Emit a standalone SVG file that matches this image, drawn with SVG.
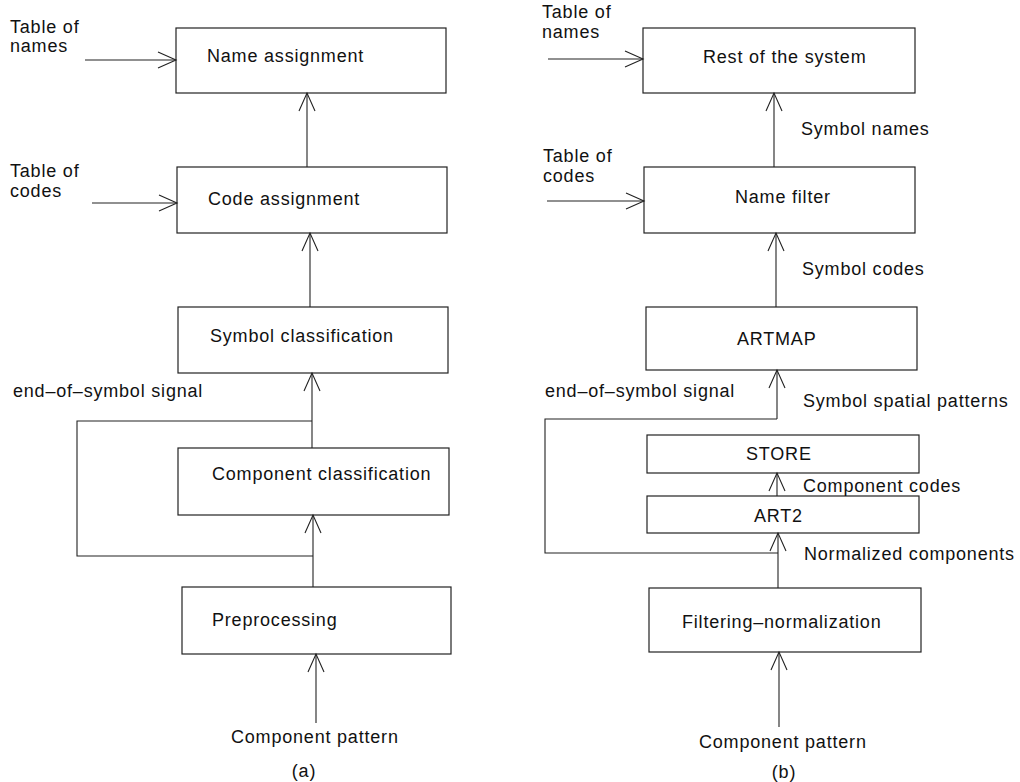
<svg xmlns="http://www.w3.org/2000/svg" width="1020" height="782" viewBox="0 0 1020 782">
<style>
.bg{fill:#fff}
.box{fill:none;stroke:#222;stroke-width:1.2}
.ln{fill:none;stroke:#222;stroke-width:1.1}
.ar{marker-end:url(#arr)}
text{font-family:"Liberation Sans",Arial,sans-serif;font-size:18px;fill:#111;letter-spacing:0.8px}
.c{text-anchor:middle}
</style>
<defs>
<marker id="arr" markerUnits="userSpaceOnUse" markerWidth="22" markerHeight="20" refX="20" refY="10" orient="auto">
<path d="M2,2 L20,10 L2,18" fill="none" stroke="#222" stroke-width="1.1"/>
</marker>
</defs>
<rect class="bg" x="0" y="0" width="1020" height="782"/>

<g id="connectors">
<!-- left panel -->
<path class="ln ar" d="M85,60 H176"/>
<path class="ln ar" d="M92,203 H177"/>
<path class="ln ar" d="M307,167 V93"/>
<path class="ln ar" d="M310,307 V233"/>
<path class="ln ar" d="M312,448 V373"/>
<path class="ln" d="M312,421 H77 V556 H313"/>
<path class="ln ar" d="M313,587 V515"/>
<path class="ln ar" d="M316,723 V654"/>
<!-- right panel -->
<path class="ln ar" d="M548,59 H643"/>
<path class="ln ar" d="M547,201 H644"/>
<path class="ln ar" d="M774,167 V93"/>
<path class="ln ar" d="M776,307 V233"/>
<path class="ln ar" d="M777,419 V370"/>
<path class="ln" d="M777,419 H545 V553 H778"/>
<path class="ln ar" d="M777,496 V473"/>
<path class="ln ar" d="M778,588 V533"/>
<path class="ln ar" d="M779,727 V652"/>
</g>

<g id="a-name-assignment"><rect class="box" x="176" y="28" width="270" height="65"/><text x="207" y="62">Name assignment</text></g>
<g id="a-code-assignment"><rect class="box" x="177" y="167" width="270" height="66"/><text x="208" y="205">Code assignment</text></g>
<g id="a-symbol-classification"><rect class="box" x="178" y="307" width="270" height="66"/><text x="210" y="342">Symbol classification</text></g>
<g id="a-component-classification"><rect class="box" x="178" y="448" width="271" height="67"/><text x="212" y="480">Component classification</text></g>
<g id="a-preprocessing"><rect class="box" x="182" y="587" width="269" height="67"/><text x="212" y="626">Preprocessing</text></g>

<g id="a-labels">
<text x="10" y="33">Table of</text><text x="10" y="52">names</text>
<text x="10" y="177">Table of</text><text x="10" y="197">codes</text>
<text x="13" y="397">end–of–symbol signal</text>
<text x="231" y="743">Component pattern</text>
<text class="c" x="304" y="777">(a)</text>
</g>

<g id="b-rest"><rect class="box" x="643" y="28" width="272" height="65"/><text x="703" y="63">Rest of the system</text></g>
<g id="b-name-filter"><rect class="box" x="644" y="167" width="271" height="66"/><text x="735" y="203">Name filter</text></g>
<g id="b-artmap"><rect class="box" x="646" y="307" width="271" height="63"/><text x="737" y="345">ARTMAP</text></g>
<g id="b-store"><rect class="box" x="647" y="435" width="272" height="38"/><text x="746" y="460">STORE</text></g>
<g id="b-art2"><rect class="box" x="647" y="496" width="272" height="37"/><text x="754" y="522">ART2</text></g>
<g id="b-filtering"><rect class="box" x="649" y="588" width="272" height="64"/><text x="682" y="628">Filtering–normalization</text></g>

<g id="b-labels">
<text x="542" y="18">Table of</text><text x="542" y="38">names</text>
<text x="543" y="162">Table of</text><text x="543" y="182">codes</text>
<text x="801" y="135">Symbol names</text>
<text x="802" y="275">Symbol codes</text>
<text x="545" y="397">end–of–symbol signal</text>
<text x="803" y="407">Symbol spatial patterns</text>
<text x="803" y="492">Component codes</text>
<text x="804" y="560">Normalized components</text>
<text x="699" y="748">Component pattern</text>
<text class="c" x="784" y="778">(b)</text>
</g>
</svg>
